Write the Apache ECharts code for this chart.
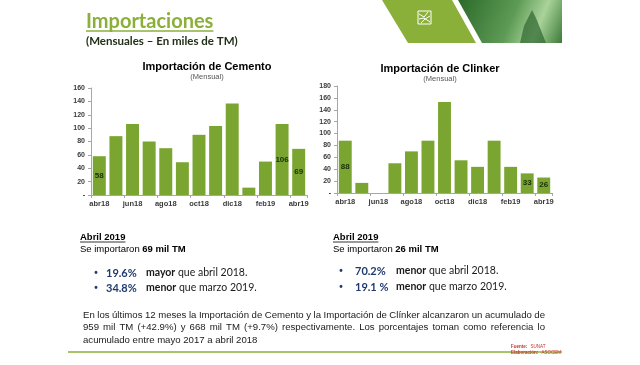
<!DOCTYPE html>
<html>
<head>
<meta charset="utf-8">
<script src="https://cdn.jsdelivr.net/npm/echarts@6/dist/echarts.min.js"></script>
<style>
html,body{margin:0;padding:0;background:#fff;}
#c{width:640px;height:365px;}
</style>
</head>
<body>
<div id="c"></div>
<script>
// ---- Data ----
const categories = ['abr18','may18','jun18','jul18','ago18','sep18','oct18','nov18','dic18','ene19','feb19','mar19','abr19'];
const cemento = [58, 88, 106, 80, 70, 49, 90, 103, 137, 11, 50, 106, 69];
const clinker = [88, 17, 0, 50, 70, 88, 153, 55, 44, 88, 44, 33, 26];
const cementoLabeled = ['abr18', 'mar19', 'abr19'];
const clinkerLabeled = ['abr18', 'mar19', 'abr19'];
const cementoYTicks = ['-', '20', '40', '60', '80', '100', '120', '140', '160'];
const clinkerYTicks = ['-', '20', '40', '60', '80', '100', '120', '140', '160', '180'];
const paragraphLines = [
  'En los últimos 12 meses la Importación de Cemento y la Importación de Clínker alcanzaron un acumulado de',
  '959 mil TM (+42.9%) y 668 mil TM (+9.7%) respectivamente. Los porcentajes toman como referencia lo',
  'acumulado entre mayo 2017 a abril 2018'
];

const BAR = '#7aa530';
const GREEN = '#8bb03a';
const AXIS = '#a6a6a6';
const BLUE = '#1f3a6e';

const canvas = document.createElement('canvas');
const ctx2 = canvas.getContext('2d');
function measure(text, font) { ctx2.font = font; return ctx2.measureText(text).width; }

function barData(values, labeled) {
  return values.map((v, i) => ({
    value: v,
    label: { show: labeled.indexOf(categories[i]) >= 0 }
  }));
}

function justified(line, x, y, width, size, family, color, justify) {
  const font = size + 'px ' + family;
  const words = line.split(' ');
  const els = [];
  if (!justify) {
    els.push({ type: 'text', x: x, y: y, style: { text: line, font: font, fill: color, textVerticalAlign: 'middle' } });
    return els;
  }
  const widths = words.map(w => measure(w, font));
  const total = widths.reduce((a, b) => a + b, 0);
  const gap = (width - total) / (words.length - 1);
  let cx = x;
  words.forEach((w, i) => {
    els.push({ type: 'text', x: cx, y: y, style: { text: w, font: font, fill: color, textVerticalAlign: 'middle' } });
    cx += widths[i] + gap;
  });
  return els;
}

const graphics = [];
// Header title
const titleFont = 'bold 20px Lato';
graphics.push({ type: 'text', x: 86, y: 22, style: { text: 'Importaciones', font: titleFont, fill: GREEN, textVerticalAlign: 'middle' } });
graphics.push({ type: 'line', shape: { x1: 86, y1: 31, x2: 86 + measure('Importaciones', titleFont), y2: 31 }, style: { stroke: GREEN, lineWidth: 1.5 } });
graphics.push({ type: 'text', x: 86, y: 41, style: { text: '(Mensuales – En miles de TM)', font: 'bold 11.5px Lato', fill: '#22301a', textVerticalAlign: 'middle' } });

// Header banner (decorative)
graphics.push({ type: 'polygon', shape: { points: [[382, 0], [452, 0], [476, 43], [408, 43]] }, style: { fill: GREEN } });
graphics.push({ type: 'polygon', shape: { points: [[458, 0], [562, 0], [562, 43], [482, 43]] },
  style: { fill: { type: 'linear', x: 0, y: 0, x2: 1, y2: 1, colorStops: [{ offset: 0, color: '#2c6a2a' }, { offset: 0.5, color: '#5d9a55' }, { offset: 0.75, color: '#a9d39a' }, { offset: 1, color: '#3d7a38' }] } } });
graphics.push({ type: 'polygon', shape: { points: [[520, 43], [524, 26], [528, 18], [532, 10], [536, 18], [540, 28], [546, 43]] }, style: { fill: '#2f6530', opacity: 0.7 } });
// logo
graphics.push({ type: 'rect', shape: { x: 418, y: 11, width: 13, height: 13 }, style: { fill: 'none', stroke: '#ffffff', lineWidth: 1 } });
graphics.push({ type: 'polyline', shape: { points: [[419, 14], [424, 17], [428, 12]] }, style: { fill: 'none', stroke: '#ffffff', lineWidth: 1 } });
graphics.push({ type: 'polyline', shape: { points: [[419, 19], [424, 18], [430, 22]] }, style: { fill: 'none', stroke: '#ffffff', lineWidth: 1 } });
graphics.push({ type: 'polyline', shape: { points: [[421, 23], [425, 19], [430, 16]] }, style: { fill: 'none', stroke: '#ffffff', lineWidth: 1 } });

// Info blocks
function infoBlock(x0, amount, bx, px, wx, rows) {
  const hFont = 'bold 9.5px "Liberation Sans"';
  graphics.push({ type: 'text', x: x0, y: 237, style: { text: 'Abril 2019', font: hFont, fill: '#000', textVerticalAlign: 'middle' } });
  graphics.push({ type: 'line', shape: { x1: x0, y1: 242, x2: x0 + measure('Abril 2019', hFont), y2: 242 }, style: { stroke: '#000', lineWidth: 0.8 } });
  graphics.push({ type: 'text', x: x0, y: 249, style: { text: '{a|Se importaron }{b|' + amount + ' mil TM}', textVerticalAlign: 'middle',
    rich: { a: { font: '9.5px "Liberation Sans"', fill: '#000' }, b: { font: 'bold 9.5px "Liberation Sans"', fill: '#000' } } } });
  rows.forEach(r => {
    graphics.push({ type: 'text', x: bx, y: r.y, style: { text: '•', font: 'bold 10px "Liberation Sans"', fill: BLUE, textVerticalAlign: 'middle', textAlign: 'center' } });
    graphics.push({ type: 'text', x: px, y: r.y, style: { text: r.pct, font: 'bold 11px Lato', fill: BLUE, textVerticalAlign: 'middle' } });
    graphics.push({ type: 'text', x: wx, y: r.y, style: { text: '{w|' + r.word + '}{t| ' + r.rest + '}', textVerticalAlign: 'middle',
      rich: { w: { font: 'bold 10.5px Lato', fill: '#1a1a1a' }, t: { font: '10.5px Lato', fill: '#1a1a1a' } } } });
  });
}
infoBlock(80, '69', 96, 106, 146, [
  { y: 273, pct: '19.6%', word: 'mayor', rest: 'que abril 2018.' },
  { y: 288, pct: '34.8%', word: 'menor', rest: 'que marzo 2019.' }
]);
infoBlock(333, '26', 341, 355, 396, [
  { y: 271, pct: '70.2%', word: 'menor', rest: 'que abril 2018.' },
  { y: 287, pct: '19.1 %', word: 'menor', rest: 'que marzo 2019.' }
]);

// Paragraph
paragraphLines.forEach((ln, i) => {
  justified(ln, 83, 315 + i * 12.5, 462, 9.6, '"Liberation Sans"', '#1a1a1a', i < 2).forEach(e => graphics.push(e));
});

// Footer
graphics.push({ type: 'line', shape: { x1: 68, y1: 352, x2: 562, y2: 352 }, style: { stroke: GREEN, lineWidth: 1.5 } });
graphics.push({ type: 'text', x: 511, y: 347, style: { text: '{a|Fuente:} {b|SUNAT}', textVerticalAlign: 'middle', rich: { a: { font: 'bold 4.5px "Liberation Sans"', fill: '#c0392b' }, b: { font: '4.5px "Liberation Sans"', fill: '#c0392b' } } } });
graphics.push({ type: 'text', x: 511, y: 353, style: { text: '{a|Elaboración:} {b|ASOCEM}', textVerticalAlign: 'middle', rich: { a: { font: 'bold 4.5px "Liberation Sans"', fill: '#c0392b' }, b: { font: '4.5px "Liberation Sans"', fill: '#c0392b' } } } });

const axisLabelStyle = { fontFamily: 'Liberation Sans', fontSize: 7.5, fontWeight: 'bold', color: '#3a3a3a' };

function xAxis(gi) {
  return {
    type: 'category', gridIndex: gi, data: categories, boundaryGap: true,
    axisLine: { lineStyle: { color: AXIS, width: 1 } },
    axisTick: { show: true, length: 3, lineStyle: { color: AXIS } },
    axisLabel: Object.assign({ interval: 1, margin: 5 }, axisLabelStyle)
  };
}
function yAxis(gi, max, ticks) {
  return {
    type: 'value', gridIndex: gi, min: 0, max: max, interval: 20,
    splitLine: { show: false },
    axisLine: { show: true, lineStyle: { color: AXIS, width: 1 } },
    axisTick: { show: true, length: 3, lineStyle: { color: AXIS } },
    axisLabel: Object.assign({ margin: 6, formatter: v => ticks[Math.round(v / 20)] }, axisLabelStyle, { fontSize: 7 })
  };
}

const labelStyle = { position: 'inside', fontFamily: 'Liberation Sans', fontSize: 8, fontWeight: 'bold', color: '#1c2e0c' };

const chart = echarts.init(document.getElementById('c'), null, { renderer: 'canvas' });
chart.setOption({
  animation: false,
  backgroundColor: '#ffffff',
  title: [
    { text: 'Importación de Cemento', subtext: '(Mensual)', left: 202, top: 56, textAlign: 'center', itemGap: 1,
      textStyle: { fontFamily: 'Liberation Sans', fontSize: 11, fontWeight: 'bold', color: '#000' },
      subtextStyle: { fontFamily: 'Liberation Sans', fontSize: 7.5, color: '#555' } },
    { text: 'Importación de Clinker', subtext: '(Mensual)', left: 435, top: 58, textAlign: 'center', itemGap: 1,
      textStyle: { fontFamily: 'Liberation Sans', fontSize: 11, fontWeight: 'bold', color: '#000' },
      subtextStyle: { fontFamily: 'Liberation Sans', fontSize: 7.5, color: '#555' } }
  ],
  grid: [
    { left: 91, right: 333, top: 88, bottom: 170 },
    { left: 337, right: 88, top: 86, bottom: 172 }
  ],
  xAxis: [xAxis(0), xAxis(1)],
  yAxis: [yAxis(0, 160, cementoYTicks), yAxis(1, 180, clinkerYTicks)],
  series: [
    { type: 'bar', name: 'Cemento', xAxisIndex: 0, yAxisIndex: 0, data: barData(cemento, cementoLabeled),
      barCategoryGap: '22%', itemStyle: { color: BAR }, label: labelStyle },
    { type: 'bar', name: 'Clinker', xAxisIndex: 1, yAxisIndex: 1, data: barData(clinker, clinkerLabeled),
      barCategoryGap: '22%', itemStyle: { color: BAR }, label: labelStyle }
  ],
  graphic: { elements: graphics }
});
</script>
</body>
</html>
